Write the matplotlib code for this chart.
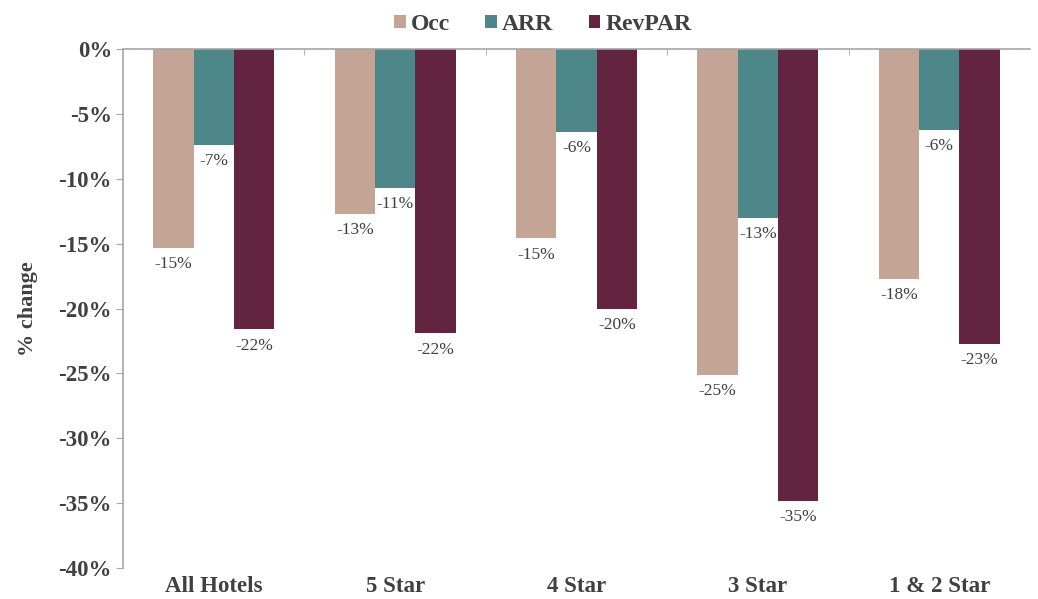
import numpy as np
import matplotlib
matplotlib.use("Agg")
import matplotlib.pyplot as plt

categories = ["All Hotels", "5 Star", "4 Star", "3 Star", "1 & 2 Star"]
occ = [-15.3, -12.7, -14.6, -25.1, -17.7]
arr = [-7.4, -10.7, -6.4, -13.0, -6.2]
revpar = [-21.6, -21.9, -20.0, -34.8, -22.7]
series_names = ["Occ", "ARR", "RevPAR"]
colors = ["#C4A494", "#4E878A", "#62243F"]

plt.rcParams["font.family"] = ["Liberation Serif", "DejaVu Serif"]
text_color = "#404040"

fig = plt.figure(figsize=(10.38, 5.99), dpi=100)
ax = fig.add_axes([0.1185, 0.0518, 0.8738, 0.8662])

x = np.arange(len(categories))
width = 0.222
for i, (vals, name, col) in enumerate(zip([occ, arr, revpar], series_names, colors)):
    pos = x + (i - 1) * width
    ax.bar(pos, vals, width, color=col, label=name)
    for p, v in zip(pos, vals):
        ax.annotate(f"{round(v):.0f}%", (p, v), xytext=(0, -6), textcoords="offset points",
                    ha="center", va="top", fontsize=12.5, color=text_color)

ax.set_xlim(-0.5, len(categories) - 0.5)
ax.set_ylim(-40, 0)
ax.set_yticks(np.arange(-40, 1, 5))
ax.set_yticklabels([f"{t}%" for t in range(-40, 1, 5)], fontsize=16.5, fontweight="bold", color=text_color)
ax.set_xticks(x)
ax.set_xticklabels(categories, fontsize=16.5, fontweight="bold", color=text_color)
ax.tick_params(axis="x", length=0, pad=6)
ax.tick_params(axis="y", length=5, color="#A6A6A6", pad=3)
ax.set_xticks(np.arange(0.5, len(categories) - 0.5), minor=True)
ax.tick_params(axis="x", which="minor", top=True, bottom=False, direction="in", length=4, color="#A6A6A6")

for s in ["right", "bottom"]:
    ax.spines[s].set_visible(False)
for s in ["left", "top"]:
    ax.spines[s].set_color("#A6A6A6")
    ax.spines[s].set_linewidth(1.2)

ax.set_ylabel("% change", fontsize=16, fontweight="bold", color=text_color, labelpad=15)

leg = fig.legend(loc="upper center", bbox_to_anchor=(0.523, 1.012), ncol=3, frameon=False,
                 handlelength=0.5, handleheight=0.5, handletextpad=0.2, columnspacing=1.5,
                 prop={"size": 17, "weight": "bold"})
for t in leg.get_texts():
    t.set_color(text_color)

fig.savefig("out.png", dpi=100)
